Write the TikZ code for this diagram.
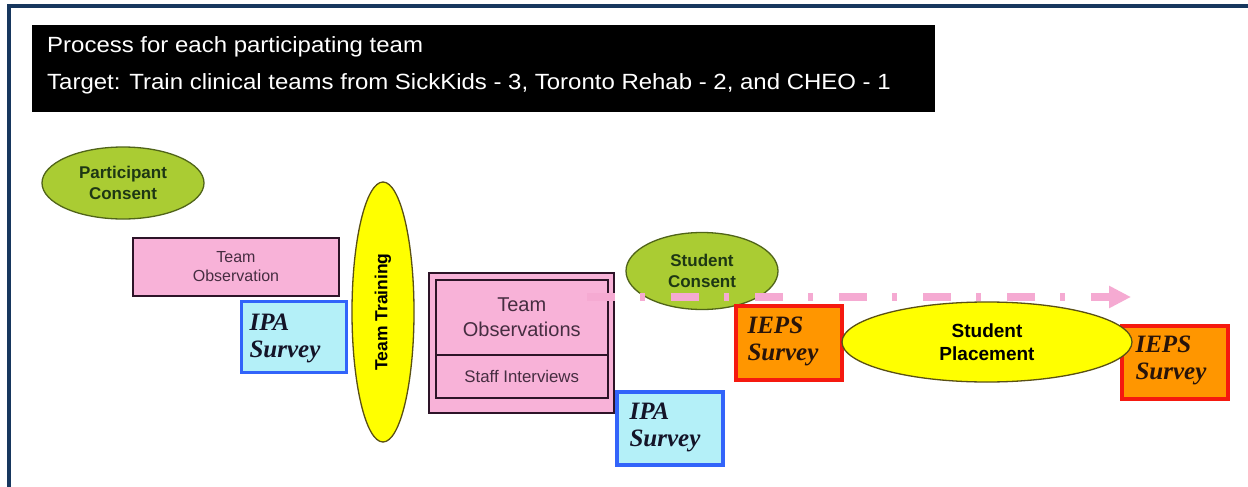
\documentclass[tikz,border=0pt]{standalone}
\usepackage{fontspec}
\setmainfont{Liberation Sans}
\newfontfamily\headfont[FakeStretch=1.09]{Liberation Sans}
\newfontfamily\surveyfont{Liberation Serif}
\usetikzlibrary{shapes.geometric,arrows.meta}

\definecolor{framenavy}{RGB}{23,55,94}
\definecolor{olivefill}{RGB}{170,204,51}
\definecolor{olivedraw}{RGB}{80,100,25}
\definecolor{olivetext}{RGB}{30,55,20}
\definecolor{pinkfill}{RGB}{248,178,216}
\definecolor{boxdraw}{RGB}{45,20,40}
\definecolor{boxtext}{RGB}{70,45,65}
\definecolor{cyanfill}{RGB}{180,240,248}
\definecolor{bluedraw}{RGB}{50,100,250}
\definecolor{orangefill}{RGB}{255,150,0}
\definecolor{reddraw}{RGB}{245,25,15}
\definecolor{yellowfill}{RGB}{255,255,0}
\definecolor{yellowdraw}{RGB}{90,80,20}
\definecolor{flowpink}{RGB}{245,170,210}
\definecolor{ipatext}{RGB}{20,20,40}
\definecolor{iepstext}{RGB}{40,20,10}

\tikzset{
  consentoval/.style={ellipse, draw=olivedraw, line width=1.3pt, fill=olivefill,
    inner sep=0pt, align=center, text=olivetext,
    font=\fontsize{17}{21}\selectfont\bfseries},
  yellowoval/.style={ellipse, draw=yellowdraw, line width=1.3pt, fill=yellowfill,
    inner sep=0pt, align=center, text=black,
    font=\fontsize{19}{23}\selectfont\bfseries},
  pinkbox/.style={rectangle, draw=boxdraw, line width=1.5pt, fill=pinkfill,
    inner sep=0pt, align=center, text=boxtext},
  ipabox/.style={rectangle, draw=bluedraw, line width=3.5pt, fill=cyanfill,
    inner sep=0pt},
  iepsbox/.style={rectangle, draw=reddraw, line width=3.5pt, fill=orangefill,
    inner sep=0pt},
  surveytext/.style={align=left, inner sep=0pt,
    font=\fontsize{25}{27}\surveyfont\bfseries\itshape},
  headtext/.style={anchor=west, text=white, inner sep=0pt,
    font=\fontsize{22}{24}\headfont},
  flowarrow/.style={draw=flowpink, line width=8pt, line cap=butt,
    dash pattern=on 28pt off 25pt on 5pt off 26pt,
    -{Triangle[length=22pt,width=21pt]}}
}

\begin{document}
\begin{tikzpicture}[x=1pt,y=-1pt]
  \useasboundingbox (0,0) rectangle (1248,487);
  \fill[white] (0,0) rectangle (1248,487);

  % frame edges
  \fill[framenavy] (7,4) rectangle (1248,8);
  \fill[framenavy] (7,4) rectangle (11,487);

  % heading banner
  \node[rectangle, fill=black, minimum width=903pt, minimum height=87pt,
        inner sep=0pt, anchor=north west] (banner) at (32,25) {};
  \node[headtext] (headone) at (47,47) {Process for each participating team};
  \node[headtext] (headtwo) at (47,84)
        {Target: Train clinical teams from SickKids - 3, Toronto Rehab - 2, and CHEO - 1};

  % first phase
  \node[consentoval, minimum width=162pt, minimum height=72pt] (pconsent) at (123,183)
        {Participant\\Consent};
  \node[pinkbox, minimum width=206pt, minimum height=58pt,
        font=\fontsize{16}{19}\selectfont] (teamobs) at (236,267)
        {Team\\Observation};
  \node[ipabox, minimum width=105pt, minimum height=71pt] (ipaone) at (294,337) {};
  \node[surveytext, text=ipatext] (ipaonetext) at (285,338) {IPA\\Survey};

  % training
  \node[yellowoval, minimum width=62pt, minimum height=260pt] (training) at (383,312) {};
  \node[rotate=90, inner sep=0pt, font=\fontsize{17.5}{20}\selectfont\bfseries]
        (trainingtext) at (training.center) {Team Training};

  % second phase
  \node[pinkbox, anchor=north west, minimum width=185pt, minimum height=140pt]
        (obsgroup) at (428,272) {};
  \node[pinkbox, anchor=north west, minimum width=172pt, minimum height=75pt,
        font=\fontsize{20}{25}\selectfont] (teamobsb) at (435,279)
        {Team\\Observations};
  \node[pinkbox, anchor=north west, minimum width=172pt, minimum height=43pt,
        font=\fontsize{16.8}{20}\selectfont] (interviews) at (435,354)
        {Staff Interviews};
  \node[ipabox, anchor=north west, minimum width=106pt, minimum height=73pt]
        (ipatwo) at (615,390) {};
  \node[surveytext, text=ipatext] (ipatwotext) at (665,427) {IPA\\Survey};

  % student phase
  \node[consentoval, minimum width=152pt, minimum height=77pt] (sconsent) at (702,271)
        {Student\\Consent};
  \node[iepsbox, anchor=north west, minimum width=106pt, minimum height=74pt]
        (iepsone) at (734,304) {};
  \node[surveytext, text=iepstext] (iepsonetext) at (783,341) {IEPS\\Survey};
  \node[iepsbox, anchor=north west, minimum width=106pt, minimum height=73pt]
        (iepstwo) at (1120,324) {};
  \node[yellowoval, minimum width=290pt, minimum height=80pt] (placement) at (987,342)
        {Student\\Placement};
  \node[surveytext, text=iepstext] (iepstwotext) at (1171,360) {IEPS\\Survey};

  % student flow arrow
  \coordinate (flowstart) at (587,297);
  \coordinate (flowend) at (1131,297);
  \draw[flowarrow] (flowstart) -- (flowend);
\end{tikzpicture}
\end{document}
